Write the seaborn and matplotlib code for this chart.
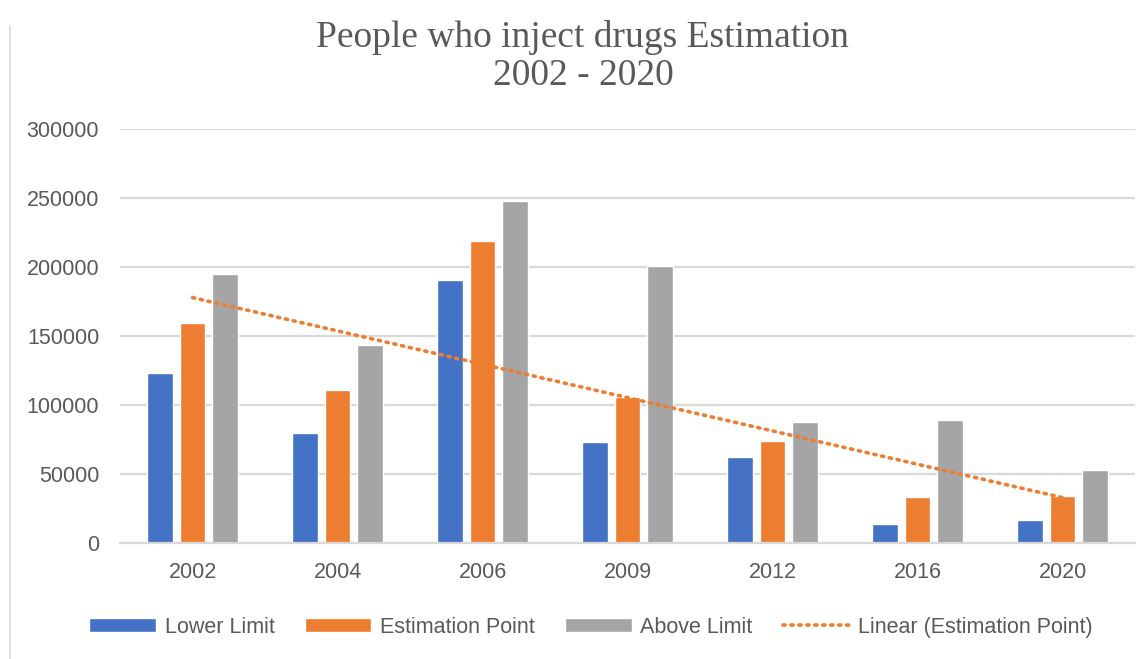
import numpy as np
import pandas as pd
import matplotlib
matplotlib.use("Agg")
import matplotlib.pyplot as plt
from matplotlib.lines import Line2D
import seaborn as sns

years = ["2002", "2004", "2006", "2009", "2012", "2016", "2020"]
lower_limit = [123300, 79800, 190300, 73200, 62100, 13800, 16700]
estimation_point = [159800, 111200, 219000, 105900, 74200, 33400, 34400]
above_limit = [195000, 143900, 248000, 200600, 88000, 89200, 52900]
series_names = ["Lower Limit", "Estimation Point", "Above Limit"]
y_ticks = [0, 50000, 100000, 150000, 200000, 250000, 300000]
title_text = "People who inject drugs Estimation\n2002 - 2020"
trend_label = "Linear (Estimation Point)"

colors = ["#4472C4", "#ED7D31", "#A5A5A5"]
text_gray = "#595959"
grid_gray = "#D9D9D9"

df = pd.DataFrame({
    "Year": years * 3,
    "Value": lower_limit + estimation_point + above_limit,
    "Series": [series_names[0]] * len(years) + [series_names[1]] * len(years) + [series_names[2]] * len(years),
})

sns.set_theme(style="white")
plt.rcParams["font.family"] = ["Liberation Sans", "DejaVu Sans"]

fig = plt.figure(figsize=(11.43, 6.59), dpi=100)
ax = fig.add_axes([0.105, 0.176, 0.888, 0.628])

sns.barplot(data=df, x="Year", y="Value", hue="Series", order=years,
            hue_order=series_names, palette=colors, saturation=1,
            width=0.67, gap=0.2, ax=ax, errorbar=None)

# linear trendline of estimation point
xs = np.arange(len(years))
coef = np.polyfit(xs, estimation_point, 1)
trend = np.polyval(coef, xs)
ax.plot(xs, trend, linestyle=(0, (0.6, 1.6)), color="#ED7D31", linewidth=2.6,
        dash_capstyle="round", label=trend_label, zorder=5)

ax.set_ylim(0, 300000)
ax.set_xlim(-0.5, len(years) - 0.5)
ax.set_yticks(y_ticks)
ax.set_yticklabels([str(t) for t in y_ticks])
ax.yaxis.grid(True, color=grid_gray, linewidth=1.6)
ax.set_axisbelow(True)
for s in ["top", "right", "left"]:
    ax.spines[s].set_visible(False)
ax.spines["bottom"].set_color(grid_gray)
ax.spines["bottom"].set_linewidth(1.6)
ax.tick_params(axis="both", length=0, labelsize=15.5, labelcolor=text_gray)
ax.tick_params(axis="y", pad=15)
ax.tick_params(axis="x", pad=14)
ax.set_xlabel("")
ax.set_ylabel("")

handles, labels = ax.get_legend_handles_labels()
order = [labels.index(n) for n in series_names + [trend_label]]
leg = ax.get_legend()
if leg is not None:
    leg.remove()
fig.legend([handles[i] for i in order], [labels[i] for i in order],
           loc="center", bbox_to_anchor=(0.517, 0.048), ncol=4, frameon=False,
           fontsize=15.5, labelcolor=text_gray, handlelength=3.1,
           handleheight=0.65, handletextpad=0.4, columnspacing=1.4)

fig.text(0.51, 0.914, title_text, ha="center", va="center", fontsize=27,
         color=text_gray, family=["Liberation Serif", "DejaVu Serif"],
         linespacing=1.15)

fig.add_artist(Line2D([0.009, 0.009], [0.0, 0.96], color=grid_gray, linewidth=1.2))

fig.savefig("out.png", dpi=100, facecolor="white")
